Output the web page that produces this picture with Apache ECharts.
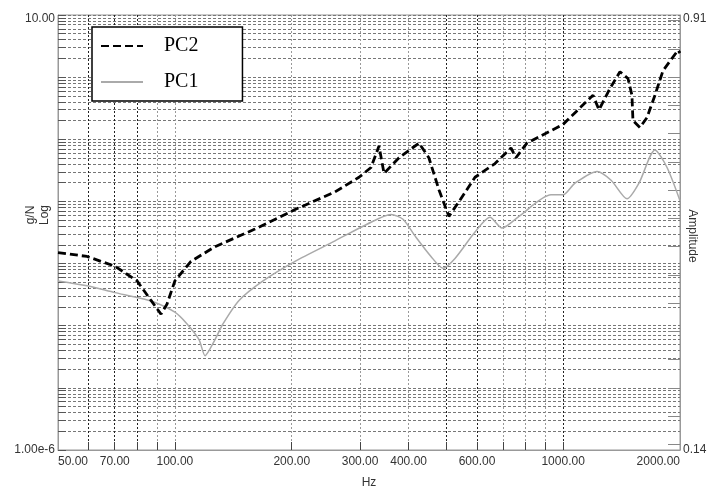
<!DOCTYPE html>
<html><head><meta charset="utf-8">
<script src="https://cdn.jsdelivr.net/npm/echarts@6/dist/echarts.min.js"></script>
<style>html,body{margin:0;padding:0;background:#fff}#c{width:711px;height:494px}</style>
</head><body><div id="c"></div>
<script>
const pc2Freq = [50, 59.4, 70.1, 79.9, 86.8, 92.1, 95.4, 100, 110, 126.9, 160.8, 203.9, 258.5, 298, 320, 335.6, 345.7, 377.8, 425.4, 451, 479, 508, 539, 593, 667.6, 734, 756, 807, 999, 1194, 1237, 1321, 1401, 1469, 1504, 1513, 1577, 1644, 1724, 1808, 1977, 2000];
const pc2Val = [1.504e-3, 1.302e-3, 9.06e-4, 5.26e-4, 2.55e-4, 1.536e-4, 2.21e-4, 5.26e-4, 1.086e-3, 1.87e-3, 3.59e-3, 7.41e-3, 0.01421, 0.02447, 0.03516, 0.0780, 0.02829, 0.0505, 0.0870, 0.0505, 0.01528, 5.75e-3, 9.89e-3, 0.02447, 0.0406, 0.0725, 0.0505, 0.0870, 0.1731, 0.513, 0.298, 0.661, 1.223, 0.950, 0.513, 0.200, 0.155, 0.223, 0.513, 1.269, 2.715, 2.435];
const pc1Freq = [50, 59.4, 70.1, 79.9, 88.9, 100, 107.5, 115.4, 119.6, 126.9, 133, 146.3, 168.7, 203.9, 258.5, 312.5, 360.3, 386.9, 415.4, 456.7, 490.4, 526.6, 593, 648, 695.9, 769.7, 930.7, 999, 1073, 1223, 1329, 1461, 1568, 1724, 1852, 2000];
const pc1Val = [5.26e-4, 4.39e-4, 3.41e-4, 2.84e-4, 2.37e-4, 1.652e-4, 1.069e-4, 5.99e-5, 3.3e-5, 5.99e-5, 1.069e-4, 2.55e-4, 5.26e-4, 1.086e-3, 2.32e-3, 4.30e-3, 6.18e-3, 5.16e-3, 2.79e-3, 1.302e-3, 8.43e-4, 1.211e-3, 3.22e-3, 5.54e-3, 3.72e-3, 5.75e-3, 0.01275, 0.01275, 0.01970, 0.0304, 0.02196, 0.01103, 0.01970, 0.0675, 0.03516, 0.01026];

const xLabelValues = [50, 70, 100, 200, 300, 400, 600, 1000, 2000];
const xGridValues = [60, 70, 80, 90, 100, 200, 300, 400, 500, 600, 700, 800, 900, 1000];
const yLabelValues = [1e-6, 10];
const yMantissas = [1, 2, 3, 4, 5, 6, 7, 8, 9];
const yDecades = [-6, -5, -4, -3, -2, -1, 0];
const rightLabelValues = [0.14, 0.91];
const rightTickValues = [0.15, 0.20, 0.25, 0.30, 0.35, 0.40, 0.45, 0.50, 0.55, 0.60, 0.65, 0.70, 0.75, 0.80, 0.85, 0.90];

const yGridValues = [];
yDecades.forEach(function (d) { yMantissas.forEach(function (m) { yGridValues.push(+(m * Math.pow(10, d)).toPrecision(3)); }); });
yGridValues.push(10);

function zip(a, b) { return a.map(function (v, i) { return [v, b[i]]; }); }

const labelFont = 'Liberation Sans, Arial, sans-serif';
const edgeRich = {
  lo: { color: '#333', fontSize: 12, fontFamily: labelFont },
  hi: { color: '#333', fontSize: 12, fontFamily: labelFont, padding: [8, 0, 0, 0] }
};
const chart = echarts.init(document.getElementById('c'));
chart.setOption({
  animation: false,
  backgroundColor: '#fff',
  grid: { left: 58, right: 31, top: 15, bottom: 34, show: true, borderColor: '#999', borderWidth: 1, backgroundColor: 'transparent' },
  legend: {
    left: 92, top: 27, orient: 'vertical',
    backgroundColor: '#fff', borderColor: '#000', borderWidth: 1.5, borderRadius: 0,
    padding: [9, 44, 9, 8], itemGap: 16, itemWidth: 42, itemHeight: 14,
    itemStyle: { opacity: 0, borderWidth: 0 },
    textStyle: { fontFamily: 'Liberation Serif, Times New Roman, serif', fontSize: 20, color: '#000', padding: [0, 0, 0, 16] },
    data: ['PC2', 'PC1']
  },
  xAxis: {
    type: 'log', logBase: 10, min: 50, max: 2000,
    name: 'Hz', nameLocation: 'middle', nameGap: 27,
    nameTextStyle: { color: '#333', fontSize: 12, fontFamily: labelFont },
    axisLine: { lineStyle: { color: '#999', width: 1 } },
    axisTick: { inside: true, length: 8, customValues: xGridValues, lineStyle: { color: '#444' } },
    axisLabel: { customValues: xLabelValues, color: '#333', fontSize: 12, fontFamily: labelFont, margin: 6,
      alignMinLabel: 'left', alignMaxLabel: 'right',
      formatter: function (v) { return Number(v).toFixed(2); } },
    splitLine: { show: true, lineStyle: { type: [2, 2], width: 1,
      color: ['#222', '#222', '#222', '#999', '#999', '#999', '#999', '#999', '#222', '#222', '#999', '#999', '#999', '#222'] } },
    minorTick: { show: false }, minorSplitLine: { show: false }
  },
  yAxis: [{
    type: 'log', logBase: 10, min: 1e-6, max: 10,
    axisLine: { show: true, lineStyle: { color: '#999', width: 1 } },
    axisTick: { show: true, inside: true, length: 8, customValues: yGridValues, lineStyle: { color: '#555' } },
    axisLabel: { customValues: yLabelValues, color: '#333', fontSize: 12, fontFamily: labelFont, margin: 3, rich: edgeRich,
      formatter: function (v) { v = Number(v); return v >= 1 ? '{hi|' + v.toFixed(2) + '}' : '{lo|' + v.toExponential(2) + '}'; } },
    splitLine: { show: true, lineStyle: { type: [3, 2], width: 1, color: '#777' } }
  }, {
    type: 'value', position: 'right', min: 0.14, max: 0.91,
    axisLine: { show: true, lineStyle: { color: '#999', width: 1 } },
    axisTick: { show: true, inside: true, length: 12, customValues: rightTickValues, lineStyle: { color: '#888' } },
    axisLabel: { customValues: rightLabelValues, color: '#333', fontSize: 12, fontFamily: labelFont, margin: 3, rich: edgeRich,
      formatter: function (v) { v = Number(v); return v > 0.5 ? '{hi|' + v.toFixed(2) + '}' : '{lo|' + v.toFixed(2) + '}'; } },
    splitLine: { show: false }
  }],
  graphic: [
    { type: 'text', x: 38, y: 215, rotation: Math.PI / 2,
      style: { text: 'g/N\nLog', fill: '#333', font: '12px ' + labelFont, align: 'center', verticalAlign: 'middle', lineHeight: 14 } },
    { type: 'text', x: 692, y: 236, rotation: -Math.PI / 2,
      style: { text: 'Amplitude', fill: '#333', font: '12px ' + labelFont, align: 'center', verticalAlign: 'middle' } }
  ],
  series: [{
    name: 'PC2', type: 'line', data: zip(pc2Freq, pc2Val), symbol: 'none', showSymbol: false,
    lineStyle: { color: '#000', width: 2.8, type: [8, 4] }, itemStyle: { color: '#000' }, z: 4
  }, {
    name: 'PC1', type: 'line', data: zip(pc1Freq, pc1Val), symbol: 'none', showSymbol: false, smooth: 0.25,
    lineStyle: { color: '#aaa', width: 1.5 }, itemStyle: { color: '#aaa' }, z: 3
  }]
});
</script></body></html>
